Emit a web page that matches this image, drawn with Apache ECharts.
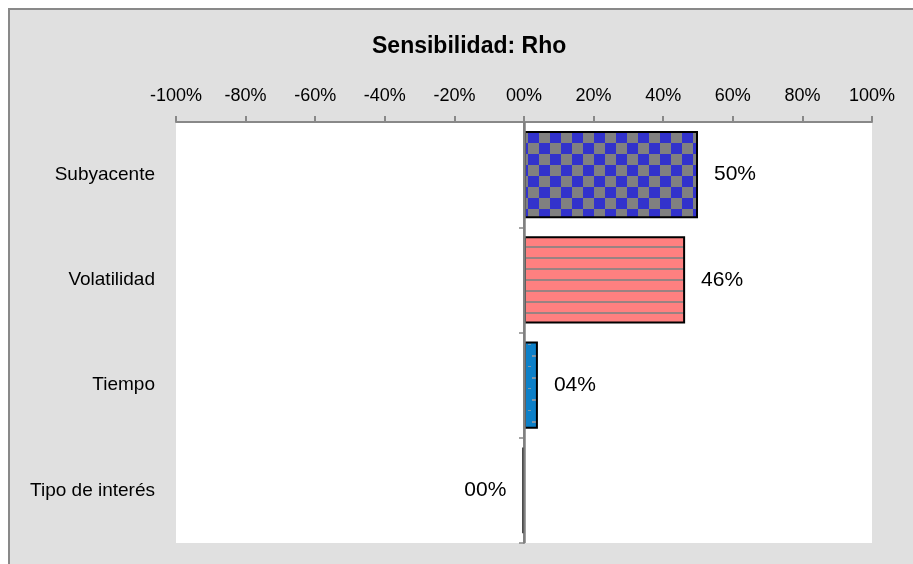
<!DOCTYPE html>
<html>
<head>
<meta charset="utf-8">
<script src="https://cdn.jsdelivr.net/npm/echarts@6/dist/echarts.min.js"></script>
<style>
  html, body { margin: 0; padding: 0; background: #fff; }
  #main { width: 913px; height: 564px; }
</style>
</head>
<body>
<div id="main"></div>
<script>
var categories = ['Subyacente', 'Volatilidad', 'Tiempo', 'Tipo de interés'];
var rhoValues = [0.50, 0.463, 0.04, -0.004];
var axisMin = -1, axisMax = 1, axisStep = 0.2;

var FONT = 'Liberation Sans';

// excel style "00%" format
function pct(v) {
    var n = Math.round(Math.abs(v) * 100);
    var s = String(n);
    if (s.length < 2) s = '0' + s;
    return (v < 0 && n > 0 ? '-' : '') + s + '%';
}

function checker() {
    var c = document.createElement('canvas');
    c.width = 22; c.height = 22;
    var ctx = c.getContext('2d');
    ctx.fillStyle = '#808080';
    ctx.fillRect(0, 0, 22, 22);
    ctx.fillStyle = '#3232cc';
    ctx.fillRect(0, 0, 11, 11);
    ctx.fillRect(11, 11, 11, 11);
    return c;
}

function stripes() {
    var c = document.createElement('canvas');
    c.width = 10; c.height = 11;
    var ctx = c.getContext('2d');
    ctx.fillStyle = '#ff8080';
    ctx.fillRect(0, 0, 10, 11);
    ctx.fillStyle = '#9a8282';
    ctx.fillRect(0, 4, 10, 2);
    return c;
}

function dashes() {
    var c = document.createElement('canvas');
    c.width = 16; c.height = 22;
    var ctx = c.getContext('2d');
    ctx.fillStyle = '#0d80c8';
    ctx.fillRect(0, 0, 16, 22);
    ctx.fillStyle = '#7d96aa';
    ctx.fillRect(4, 3, 8, 2);
    ctx.fillRect(0, 14, 3, 1);
    return c;
}

var fills = [
    { image: checker(), repeat: 'repeat' },
    { image: stripes(), repeat: 'repeat' },
    { image: dashes(), repeat: 'repeat' },
    '#0d80c8'
];

var barData = [];
for (var i = 0; i < rhoValues.length; i++) {
    var item = {
        value: rhoValues[i],
        itemStyle: { color: fills[i] }
    };
    if (rhoValues[i] < 0) item.label = { position: 'left' };
    barData.push(item);
}

var myChart = echarts.init(document.getElementById('main'), null, { renderer: 'canvas' });

var option = {
    animation: false,
    textStyle: { fontFamily: FONT },
    graphic: [{
        type: 'rect',
        z: -10,
        silent: true,
        shape: { x: 9, y: 9, width: 1000, height: 1000 },
        style: { fill: '#e0e0e0', stroke: '#898989', lineWidth: 2 }
    }],
    title: {
        text: 'Sensibilidad: Rho',
        left: 372,
        top: 35,
        padding: 0,
        textStyle: { fontFamily: FONT, fontSize: 23, fontWeight: 'bold', color: '#000' }
    },
    grid: {
        left: 176, right: 41, top: 122, bottom: 21,
        show: true, backgroundColor: '#fff', borderWidth: 0
    },
    xAxis: {
        type: 'value',
        position: 'top',
        min: axisMin, max: axisMax, interval: axisStep,
        splitLine: { show: false },
        axisLine: { show: true, lineStyle: { color: '#888', width: 2 } },
        axisTick: { show: true, length: 6, lineStyle: { color: '#888', width: 2 } },
        axisLabel: {
            margin: 17, fontSize: 18, color: '#000', fontFamily: FONT,
            formatter: pct
        }
    },
    yAxis: [{
        type: 'category',
        inverse: true,
        data: categories,
        axisLine: { show: true, onZero: true, lineStyle: { color: '#888', width: 2 } },
        axisTick: { show: true, length: 5, lineStyle: { color: '#888', width: 1.5 } },
        axisLabel: { show: false }
    }, {
        type: 'category',
        position: 'left',
        inverse: true,
        data: categories,
        axisLine: { show: false, onZero: false },
        axisTick: { show: false },
        axisLabel: { margin: 21, fontSize: 19, color: '#000', fontFamily: FONT }
    }],
    series: [{
        type: 'bar',
        yAxisIndex: 0,
        data: barData,
        barCategoryGap: '17%',
        itemStyle: { borderColor: '#000', borderWidth: 2 },
        label: {
            show: true,
            position: 'right',
            distance: 16,
            fontSize: 21,
            color: '#000',
            fontFamily: FONT,
            formatter: function (p) { return pct(p.value); }
        },
        // vertical axis line at zero, drawn over the bars
        markLine: {
            silent: true,
            symbol: 'none',
            z: 10,
            label: { show: false },
            lineStyle: { color: '#808080', width: 2.5, type: 'solid', opacity: 1 },
            data: [{ xAxis: 0 }]
        }
    }]
};

myChart.setOption(option);
</script>
</body>
</html>
